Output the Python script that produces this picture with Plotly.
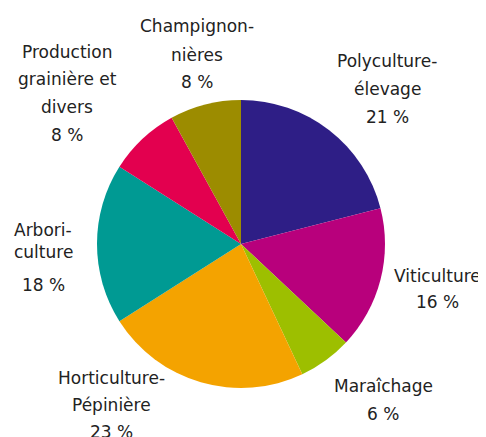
import plotly.graph_objects as go

categories = ["Polyculture-\nélevage", "Viticulture", "Maraîchage", "Horticulture-\nPépinière",
              "Arbori-\nculture", "Production\ngrainière et\ndivers", "Champignon-\nnières"]
values = [21, 16, 6, 23, 18, 8, 8]
colors = ["#2e1e86", "#b8007c", "#9dbf00", "#f4a300", "#009a93", "#e3004f", "#9c8c00"]

# label line positions (pixel centers in the page): x, list of y per line (incl. percentage)
label_x = [387, 437, 383, 111, 43, 67, 197]
label_ys = [[61, 89, 117], [276, 302], [386, 414], [378, 405, 432],
            [230, 252, 285], [52, 79, 107, 135], [26, 55, 82]]

W, H = 486, 437
OFF = 8  # page body margin
fig = go.Figure(go.Pie(
    labels=[c.replace("\n", " ") for c in categories],
    values=values,
    marker=dict(colors=colors, line=dict(width=0)),
    sort=False, direction="clockwise", rotation=0,
    textinfo="none", hoverinfo="label+percent",
    domain=dict(x=[(97 - OFF) / W, (385 - OFF) / W],
                y=[(H - 388 + OFF) / H, (H - 100 + OFF) / H]),
    showlegend=False,
))

annotations = []
for cat, v, x, ys in zip(categories, values, label_x, label_ys):
    lines = cat.split("\n") + [f"{v} %"]
    for line, y in zip(lines, ys):
        annotations.append(dict(
            x=(x - OFF) / W, y=1 - (y - OFF) / H, xref="paper", yref="paper",
            text=line, showarrow=False, xanchor="center", yanchor="middle",
            font=dict(family="DejaVu Sans", size=17, color="#222222"),
        ))

fig.update_layout(
    width=W, height=H, margin=dict(l=0, r=0, t=0, b=0),
    paper_bgcolor="white", plot_bgcolor="white",
    annotations=annotations,
)
fig.write_html("out.html")
